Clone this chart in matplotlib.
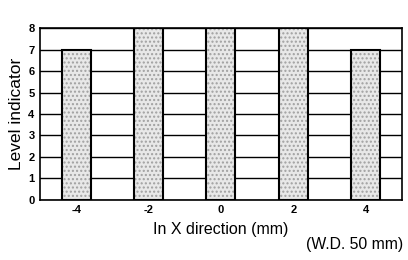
import matplotlib
matplotlib.use("Agg")
import matplotlib.pyplot as plt

# data
positions = [-4, -2, 0, 2, 4]
levels = [7, 8, 8, 8, 7]
x_ticklabels = ["-4", "-2", "0", "2", "4"]
y_ticks = [0, 1, 2, 3, 4, 5, 6, 7, 8]

plt.rcParams['font.family'] = ['Liberation Sans', 'DejaVu Sans']

fig = plt.figure(figsize=(4.08, 2.6), dpi=100)
ax = fig.add_axes([0.098, 0.231, 0.887, 0.661])

# horizontal grid lines at every level
for y in y_ticks:
    ax.axhline(y, color='black', linewidth=1.0, zorder=1)

# stippled fill (hatch takes the edge colour), then a black outline on top
ax.bar(positions, levels, width=0.8, color='#e8e8e8', edgecolor='#a0a0a0',
       linewidth=0, hatch='....', zorder=3)
ax.bar(positions, levels, width=0.8, fill=False, edgecolor='black',
       linewidth=1.5, zorder=4)

ax.set_xlim(-5, 5)
ax.set_ylim(0, 8)
ax.set_xticks(positions)
ax.set_xticklabels(x_ticklabels, fontsize=8, fontweight='bold')
ax.set_yticks(y_ticks)
ax.set_yticklabels([str(v) for v in y_ticks], fontsize=8, fontweight='bold')
ax.tick_params(axis='both', length=0, pad=4)

for s in ax.spines.values():
    s.set_linewidth(1.2)

ax.set_xlabel("In X direction (mm)", fontsize=11.5, labelpad=5)
ax.set_ylabel("Level indicator", fontsize=12.5, labelpad=3)
fig.text(0.988, 0.03, "(W.D. 50 mm)", fontsize=11.3, ha='right', va='bottom')

fig.savefig("out.png", dpi=100)
